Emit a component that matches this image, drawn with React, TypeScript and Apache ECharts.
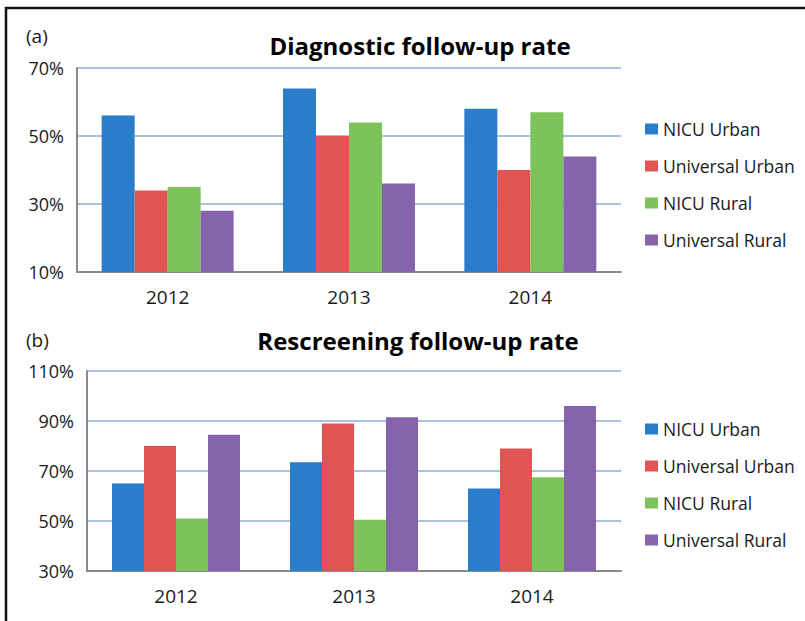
import React, { useEffect, useRef } from "react";
import * as echarts from "echarts";

const years = ["2012", "2013", "2014"];
const seriesNames = ["NICU Urban", "Universal Urban", "NICU Rural", "Universal Rural"];
const colors = ["#2a7dc8", "#e15454", "#7cc35c", "#8564ab"];

// (a) Diagnostic follow-up rate (%)
const diagNicuUrban = [56, 64, 58];
const diagUniversalUrban = [34, 50, 40];
const diagNicuRural = [35, 54, 57];
const diagUniversalRural = [28, 36, 44];

// (b) Rescreening follow-up rate (%)
const rescNicuUrban = [65, 73.5, 63];
const rescUniversalUrban = [80, 89, 79];
const rescNicuRural = [51, 50.5, 67.5];
const rescUniversalRural = [84.5, 91.5, 96];

const diagTicks = [10, 30, 50, 70];
const rescTicks = [30, 50, 70, 90, 110];

const FONT = "Open Sans";
const TEXT = "#1a1a1a";

export default function App() {
  const ref = useRef<HTMLDivElement>(null);

  useEffect(() => {
    if (!ref.current) return;
    const chart = echarts.init(ref.current, undefined, { renderer: "svg" });

    const diagBase = diagTicks[0];
    const rescBase = rescTicks[0];
    const diagData = [diagNicuUrban, diagUniversalUrban, diagNicuRural, diagUniversalRural];
    const rescData = [rescNicuUrban, rescUniversalUrban, rescNicuRural, rescUniversalRural];

    const makeX = (gridIndex: number) => ({
      type: "category",
      gridIndex,
      data: years,
      axisLine: { show: true, lineStyle: { color: "#8a8a8a", width: 2 } },
      axisTick: { show: false },
      axisLabel: { fontFamily: FONT, fontSize: 19, color: TEXT, margin: 15 },
    });

    const makeY = (gridIndex: number, ticks: number[]) => ({
      type: "value",
      gridIndex,
      min: 0,
      max: ticks[ticks.length - 1] - ticks[0],
      interval: ticks[1] - ticks[0],
      axisLine: { show: true, lineStyle: { color: "#8a8a8a", width: 2 } },
      axisTick: { show: false },
      splitLine: { show: true, lineStyle: { color: "#a9c1de", width: 2 } },
      axisLabel: {
        fontFamily: FONT,
        fontSize: 18,
        color: TEXT,
        margin: 13,
        formatter: (v: number) => `${v + ticks[0]}%`,
      },
    });

    const series: any[] = [];
    seriesNames.forEach((name, i) => {
      series.push({
        name,
        type: "bar",
        xAxisIndex: 0,
        yAxisIndex: 0,
        barWidth: 33,
        barGap: "0%",
        itemStyle: { color: colors[i] },
        data: diagData[i].map((v) => v - diagBase),
      });
    });
    seriesNames.forEach((name, i) => {
      series.push({
        name,
        type: "bar",
        xAxisIndex: 1,
        yAxisIndex: 1,
        barWidth: 32,
        barGap: "0%",
        itemStyle: { color: colors[i] },
        data: rescData[i].map((v) => v - rescBase),
      });
    });

    const legendCommon = {
      orient: "vertical",
      left: 640,
      itemWidth: 13,
      itemHeight: 11,
      itemGap: 17,
      icon: "rect",
      data: seriesNames,
      textStyle: { fontFamily: FONT, fontSize: 17.5, color: TEXT, lineHeight: 20 },
    };

    chart.setOption({
      animation: false,
      backgroundColor: "#ffffff",
      grid: [
        { left: 77, top: 68, width: 544, height: 204 },
        { left: 87, top: 371, width: 534, height: 200 },
      ],
      xAxis: [makeX(0), makeX(1)],
      yAxis: [makeY(0, diagTicks), makeY(1, rescTicks)],
      legend: [
        { ...legendCommon, top: 114 },
        { ...legendCommon, top: 414 },
      ],
      series,
      graphic: [
        { type: "line", shape: { x1: 5, y1: 8, x2: 805, y2: 8 }, style: { stroke: "#111", lineWidth: 2.5 } },
        { type: "line", shape: { x1: 6, y1: 7, x2: 6, y2: 621 }, style: { stroke: "#111", lineWidth: 2.5 } },
        {
          type: "text", left: 26, top: 26,
          style: { text: "(a)", fontFamily: FONT, fontSize: 19, fill: TEXT },
        },
        {
          type: "text", x: 420, y: 45,
          style: { text: "Diagnostic follow-up rate", fontFamily: FONT, fontSize: 24, fontWeight: "bold", fill: "#000", align: "center", verticalAlign: "middle" },
        },
        {
          type: "text", left: 26, top: 330,
          style: { text: "(b)", fontFamily: FONT, fontSize: 19, fill: TEXT },
        },
        {
          type: "text", x: 418, y: 340,
          style: { text: "Rescreening follow-up rate", fontFamily: FONT, fontSize: 24, fontWeight: "bold", fill: "#000", align: "center", verticalAlign: "middle" },
        },
      ],
    });

    return () => chart.dispose();
  }, []);

  return (
    <div
      ref={ref}
      style={{ position: "fixed", left: 0, top: 0, width: 805, height: 621, background: "#fff" }}
    />
  );
}
